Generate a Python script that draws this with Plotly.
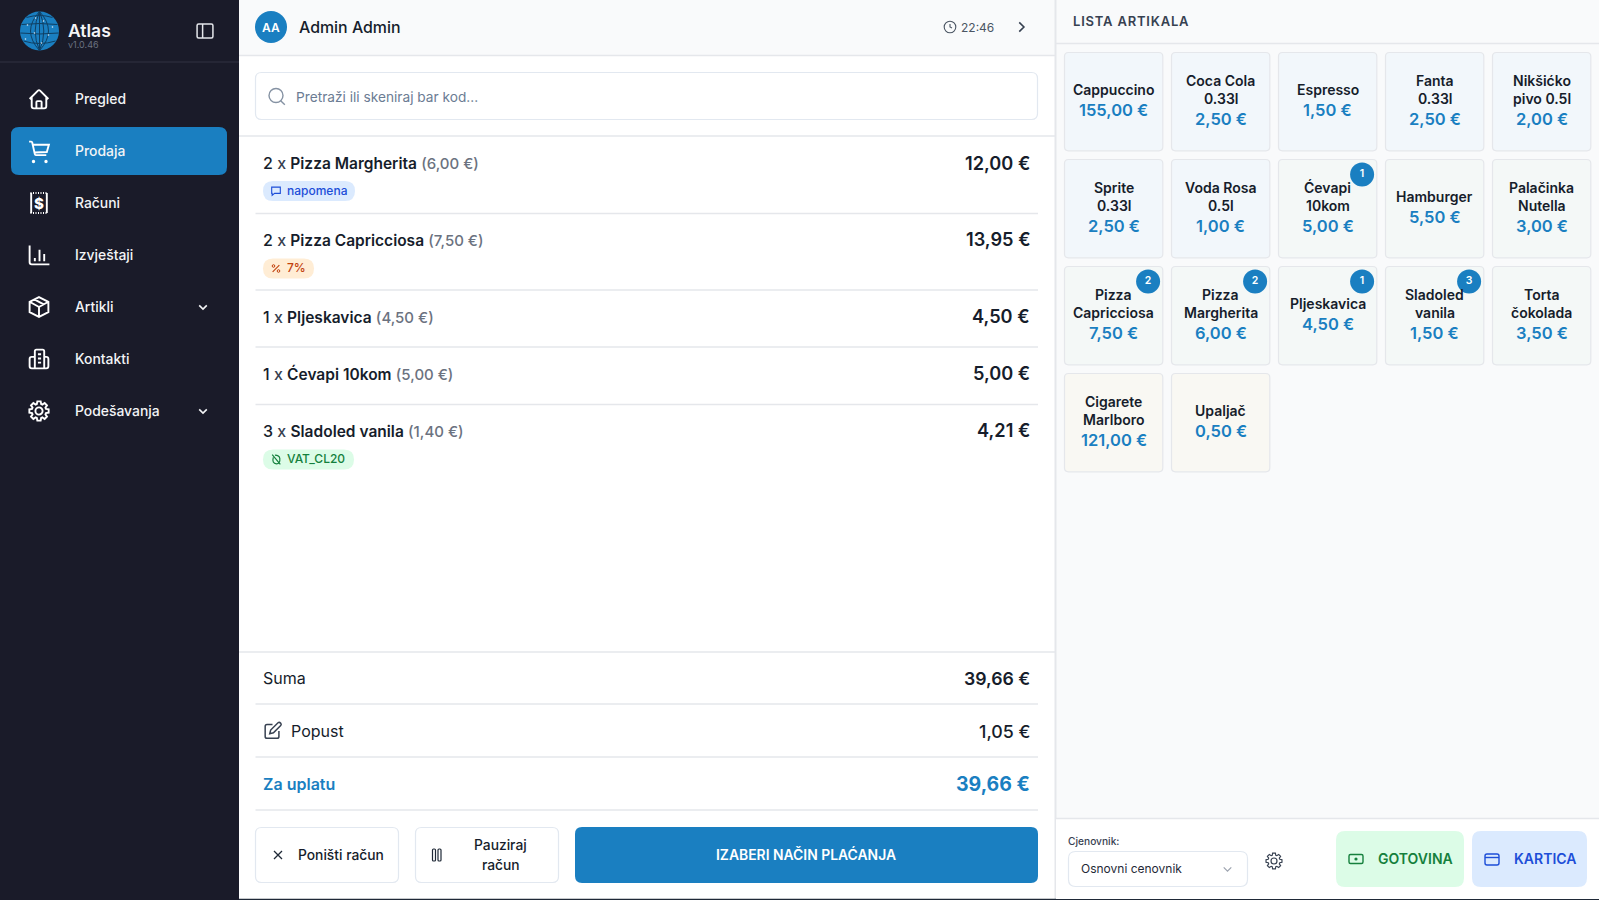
import math
import re
import plotly.graph_objects as go

# Sidebar
menu_labels = ["Pregled", "Prodaja", "Računi", "Izvještaji", "Artikli", "Kontakti", "Podešavanja"]
menu_icons = ["home", "cart", "receipt", "chart", "box", "contacts", "gear"]
menu_has_chevron = [False, False, False, False, True, False, True]

# Receipt
receipt_qty = [2, 2, 1, 1, 3]
receipt_names = ["Pizza Margherita", "Pizza Capricciosa", "Pljeskavica", "Ćevapi 10kom", "Sladoled vanila"]
receipt_unit = ["6,00 €", "7,50 €", "4,50 €", "5,00 €", "1,40 €"]
receipt_total = ["12,00 €", "13,95 €", "4,50 €", "5,00 €", "4,21 €"]
receipt_tags = ["napomena", "7%", None, None, "VAT_CL20"]

# Totals
suma = "39,66 €"
popust = "1,05 €"
za_uplatu = "39,66 €"

# Article cards
card_names = [
    "Cappuccino", "Coca Cola<br>0.33l", "Espresso", "Fanta<br>0.33l", "Nikšićko<br>pivo 0.5l",
    "Sprite<br>0.33l", "Voda Rosa<br>0.5l", "Ćevapi<br>10kom", "Hamburger", "Palačinka<br>Nutella",
    "Pizza<br>Capricciosa", "Pizza<br>Margherita", "Pljeskavica", "Sladoled<br>vanila", "Torta<br>čokolada",
    "Cigarete<br>Marlboro", "Upaljač",
]
card_prices = [
    "155,00 €", "2,50 €", "1,50 €", "2,50 €", "2,00 €",
    "2,50 €", "1,00 €", "5,00 €", "5,50 €", "3,00 €",
    "7,50 €", "6,00 €", "4,50 €", "1,50 €", "3,50 €",
    "121,00 €", "0,50 €",
]
card_groups = ["drink"] * 7 + ["food"] * 8 + ["other"] * 2
card_counts = [0, 0, 0, 0, 0, 0, 0, 1, 0, 0, 2, 2, 1, 3, 0, 0, 0]

W, H = 1599, 900
FONT = "Inter"
BLUE = "#1a7fc1"
DARK = "#1a1b29"
INK = "#161d2b"
LINE = "#e5e7eb"
GROUP_FILL = {"drink": "#f2f7fb", "food": "#f4f8f7", "other": "#f9f8f3"}

shapes = []
notes = []


def rrect(x0, y0, x1, y1, r):
    return (f"M{x0+r} {y0} L{x1-r} {y0} Q{x1} {y0} {x1} {y0+r} L{x1} {y1-r} Q{x1} {y1} {x1-r} {y1} "
            f"L{x0+r} {y1} Q{x0} {y1} {x0} {y1-r} L{x0} {y0+r} Q{x0} {y0} {x0+r} {y0} Z")


def box(x0, y0, x1, y1, r=0, fill=None, line=None, lw=1):
    shapes.append(dict(type="path", path=rrect(x0, y0, x1, y1, r), xref="x", yref="y", layer="below",
                       fillcolor=fill or "rgba(0,0,0,0)", line=dict(color=line or "rgba(0,0,0,0)", width=lw if line else 0)))


def hline(x0, x1, y, color=LINE, lw=1.5, dash="solid"):
    shapes.append(dict(type="line", x0=x0, x1=x1, y0=y, y1=y, xref="x", yref="y", layer="below",
                       line=dict(color=color, width=lw, dash=dash)))


def dot(cx, cy, r, fill=None, line=None, lw=1):
    shapes.append(dict(type="circle", x0=cx-r, x1=cx+r, y0=cy-r, y1=cy+r, xref="x", yref="y", layer="below",
                       fillcolor=fill or "rgba(0,0,0,0)", line=dict(color=line or "rgba(0,0,0,0)", width=lw if line else 0)))


def icon(d, cx, cy, size, color, lw=1.6, fill=None):
    # paths are written in a 24x24 box, only absolute M L Q C Z
    k = size / 24
    i = [0]

    def conv(m):
        v = float(m.group())
        i[0] += 1
        return f"{(cx + (v - 12) * k if i[0] % 2 else cy + (v - 12) * k):.2f}"

    path = re.sub(r"-?\d+\.?\d*", conv, d)
    shapes.append(dict(type="path", path=path, xref="x", yref="y", layer="below",
                       fillcolor=fill or "rgba(0,0,0,0)", line=dict(color=color, width=lw)))


def text(x, y, s, size=14, color=INK, weight=400, anchor="left", font=FONT):
    notes.append(dict(x=x, y=y, text=s, xref="x", yref="y", showarrow=False, xanchor=anchor, yanchor="middle",
                      borderpad=0, borderwidth=0, align=anchor, font=dict(family=font, size=size, color=color, weight=weight)))


def gear_d():
    pts = []
    for t in range(8):
        a = t * math.pi / 4
        for da, r in [(-0.30, 7.6), (-0.17, 10.2), (0.17, 10.2), (0.30, 7.6)]:
            pts.append((12 + r * math.cos(a + da), 12 + r * math.sin(a + da)))
    return "M" + " L".join(f"{x:.2f} {y:.2f}" for x, y in pts) + " Z"


ICONS = {
    "home": "M3 12 L11 4 Q12 3 13 4 L21 12 M5 10 L5 19 Q5 21 7 21 L17 21 Q19 21 19 19 L19 10 "
            "M9.5 21 L9.5 15 Q9.5 14 10.5 14 L13.5 14 Q14.5 14 14.5 15 L14.5 21",
    "cart": "M2.5 3 L4.5 3 Q5.3 3 5.5 3.8 L8 15 Q8.2 16 9 16 L19 16 M5.8 6 L21.5 6 L19.5 13 L7.4 13.5",
    "receipt": "M4.5 2.5 L4.5 21.5 M19.5 2.5 L19.5 21.5",
    "chart": "M3 3 L3 19 Q3 21 5 21 L22 21 M8 15 L8 18 M12.5 7 L12.5 18 M17 11 L17 18",
    "box": "M12 2.5 L21 7 L21 17 L12 21.5 L3 17 L3 7 Z M3 7 L12 12 L21 7 M12 12 L12 21.5 M7.5 4.7 L16.5 9.5",
    "contacts": "M8 21 L8 4.5 Q8 3 9.5 3 L15.5 3 Q17 3 17 4.5 L17 21 Z M8 10 L5 10 Q3 10 3 12 L3 19 Q3 21 5 21 L19 21 "
                "Q21 21 21 19 L21 12 Q21 10 19 10 L17 10 M11 7.5 L14 7.5 M11 11.5 L14 11.5 M11 15.5 L14 15.5",
    "gear": gear_d(),
}

# panels
box(0, 0, 239, H, fill=DARK)
box(239, 0, 1055, 55, fill="#f9fafb")
hline(239, 1055, 55.5)
box(1056, 0, W, 818, fill="#f9fafb")
shapes.append(dict(type="line", x0=1055.5, x1=1055.5, y0=0, y1=H, xref="x", yref="y", layer="below", line=dict(color="#e5e7eb", width=2)))
hline(0, 239, 62, color="#2a2b3a")
hline(239, W, 899.5, color="#1f2937", lw=1.5)

# logo
dot(39.5, 31, 19.5, fill=BLUE)
for rx in (6.5, 13.5):
    shapes.append(dict(type="path", xref="x", yref="y", layer="below", line=dict(color="#0f3f63", width=1),
                       path=f"M39.5 11.5 Q{39.5-rx*1.33} 31 39.5 50.5 Q{39.5+rx*1.33} 31 39.5 11.5 Z"))
shapes.append(dict(type="line", x0=39.5, x1=39.5, y0=11.5, y1=50.5, xref="x", yref="y", layer="below", line=dict(color="#0f3f63", width=1)))
for y0, bow, half in [(17.5, -2, 13), (24.5, -1, 18), (33, 1, 19), (41, 2.5, 16)]:
    shapes.append(dict(type="path", xref="x", yref="y", layer="below", line=dict(color="#0f3f63", width=1),
                       path=f"M{39.5-half} {y0} Q39.5 {y0+bow*2} {39.5+half} {y0}"))
for dx, dy in [(-12, -6), (-5, 2), (-14, 8), (4, -10), (9, 4), (13, -4), (2, 12), (-4, -13)]:
    dot(39.5 + dx, 31 + dy, 0.8, fill="#dcecf7")
text(67.5, 30, "Atlas", size=17.5, color="#f3f4f6", weight=600)
text(68, 44, "v1.0.46", size=9, color="#6b7280")
icon("M2 5 Q2 3 4 3 L20 3 Q22 3 22 5 L22 19 Q22 21 20 21 L4 21 Q2 21 2 19 Z M9 3 L9 21", 205, 31, 19, "#e5e7eb", lw=1.5)

# menu
box(11, 127, 227, 175, r=8, fill=BLUE)
for n, (label, ic, chev) in enumerate(zip(menu_labels, menu_icons, menu_has_chevron)):
    yc = 99 + 52 * n
    text(75, yc - 0.4, label, size=13.9, color="#f3f4f6", weight=500)
    icon(ICONS[ic], 39, yc, 25 if ic != "gear" else 23, "#ffffff", lw=1.9)
    if ic == "cart":
        dot(33.5, yc + 10.5, 1.7, fill="#ffffff")
        dot(46, yc + 10.5, 1.7, fill="#ffffff")
    if ic == "receipt":
        hline(30.5, 47.5, yc - 10, color="#ffffff", lw=2, dash="1px,1.5px")
        hline(30.5, 47.5, yc + 10, color="#ffffff", lw=2, dash="1px,1.5px")
        text(39, yc, "$", size=15, color="#ffffff", weight=800, anchor="center")
    if ic == "gear":
        dot(39, yc, 3.6, line="#ffffff", lw=1.9)
    if chev:
        icon("M5 9 L12 16 L19 9", 203, yc, 13, "#f3f4f6", lw=1.6)

# header
dot(271, 27, 16, fill=BLUE)
text(271, 27, "AA", size=12, color="#ffffff", weight=600, anchor="center")
text(299, 27, "Admin Admin", size=15.9, color=INK, weight=500)
dot(950, 27, 5.8, line="#4b5563", lw=1.1)
icon("M12 6 L12 12 L16 14", 950, 27, 12, "#4b5563", lw=1.1)
text(994, 27, "22:46", size=12, color="#4b5563", anchor="right")
icon("M9 4 L17 12 L9 20", 1021, 27, 14, "#374151", lw=1.6)

# search
box(255.5, 72.5, 1037.5, 119.5, r=6, fill="#ffffff", line="#e2e8f0", lw=1.2)
dot(276, 95.5, 7, line="#8592a3", lw=1.4)
icon("M17 17 L22 22", 276.5, 96.5, 20, "#8592a3", lw=1.4)
text(296, 96.6, "Pretraži ili skeniraj bar kod...", size=13.7, color="#6b7c93")
hline(239, 1055, 136)

# receipt rows
row_y = [163, 240.5, 317.5, 374.5, 431.5]
row_shift = [0, -0.9, -0.9, -0.9, -0.9]
row_rule = [213.5, 290, 347, 404.5]
tag_style = {"napomena": ("#dbeafe", "#1d4ed8", 355), "7%": ("#ffedd5", "#c2410c", 314), "VAT_CL20": ("#dcfce7", "#15803d", 354)}
for n in range(len(receipt_names)):
    yc = row_y[n]
    s = (f"{receipt_qty[n]} <span style=\"color:#374151\">x</span> "
         f"<span style=\"font-weight:600;font-size:15.5px\">{receipt_names[n]}</span> "
         f"<span style=\"color:#6b7280;font-size:15px\">({receipt_unit[n]})</span>")
    text(263, yc + row_shift[n], s, size=16, color=INK, weight=500)
    text(1030, yc - 0.5 + row_shift[n], receipt_total[n], size=18.2, color=INK, weight=600, anchor="right")
    tag = receipt_tags[n]
    if tag:
        fill, ink, x1 = tag_style[tag]
        box(263, yc + 18, x1, yc + 38, r=10, fill=fill)
        text(287, yc + 27.2, tag, size=12, color=ink, weight=500)
        if tag == "napomena":
            icon("M3 4 L21 4 L21 17 L9 17 L4 21 L4 17 L3 17 Z", 276, yc + 28, 11.5, ink, lw=1.1)
        elif tag == "7%":
            icon("M5 19 L19 5", 276, yc + 28, 11.5, ink, lw=1.1)
            dot(273.5, yc + 25.5, 1.3, line=ink, lw=1)
            dot(278.5, yc + 30.5, 1.3, line=ink, lw=1)
        else:
            icon("M5 3 L20 21 M7 8 Q4 19 13 20 Q20 20 19 10 Q18 4 10 4", 276, yc + 28, 13, ink, lw=1.2)
for y in row_rule:
    hline(255.5, 1038, y)

# totals
hline(239, 1055, 652)
text(263, 678, "Suma", size=16, color=INK)
text(1030, 678, suma, size=17.7, color=INK, weight=600, anchor="right")
hline(255.5, 1038, 704)
icon("M12 5 L6 5 Q4 5 4 7 L4 18 Q4 20 6 20 L17 20 Q19 20 19 18 L19 12 M9 15 L10 11 L18 3 Q19.5 2 21 3.5 Q22 5 21 6 L13 14 Z", 272.5, 731, 22, "#374151", lw=1.5)
text(291, 731, "Popust", size=16, color=INK)
text(1030, 731, popust, size=17.8, color=INK, weight=500, anchor="right")
hline(255.5, 1038, 757)
text(263, 784, "Za uplatu", size=16, color=BLUE, weight=600)
text(1030, 784, za_uplatu, size=19.5, color=BLUE, weight=700, anchor="right")
hline(255.5, 1038, 810)

# action buttons
box(255.5, 827.5, 398.5, 882.5, r=6, fill="#ffffff", line="#e2e8f0", lw=1.2)
box(415.5, 827.5, 558.5, 882.5, r=6, fill="#ffffff", line="#e2e8f0", lw=1.2)
box(575, 827, 1038, 883, r=7, fill=BLUE)
icon("M6 6 L18 18 M18 6 L6 18", 278, 855, 16, "#1f2937", lw=1.3)
text(298, 854.6, "Poništi račun", size=13.8, color=INK, weight=500)
box(432.5, 849, 435.5, 861, r=1, line="#1f2937", lw=1.2)
box(438, 849, 441, 861, r=1, line="#1f2937", lw=1.2)
text(500.5, 844.5, "Pauziraj", size=13.8, color=INK, weight=500, anchor="center")
text(500.5, 864.5, "račun", size=13.8, color=INK, weight=500, anchor="center")
text(806, 854.6, "IZABERI NAČIN PLAĆANJA", size=13.9, color="#ffffff", weight=600, anchor="center")

# right panel
text(1072.5, 21, "<span style=\"letter-spacing:0.8px\">LISTA ARTIKALA</span>", size=13, color="#374151", weight=600)
hline(1056, W, 43.5)

badge_x, badge_y, badge_text = [], [], []
for n, name in enumerate(card_names):
    col, row = n % 5, n // 5
    x0 = 1064.5 + 107 * col
    y0 = 52.5 + 107 * row
    x1, xc = x0 + 98.3, x0 + 49.15
    box(x0, y0, x1, y0 + 98.3, r=4, fill=GROUP_FILL[card_groups[n]], line="#e5e7eb", lw=1.2)
    lines = name.split("<br>")
    top = 28.5 if len(lines) == 2 else 37.5
    for k, part in enumerate(lines):
        text(xc, y0 + top + 18 * k - 0.9, part, size=14, color=INK, weight=600, anchor="center")
    text(xc, y0 + top + 18 * (len(lines) - 1) + 20, card_prices[n], size=16.5, color=BLUE, weight=600, anchor="center")
    if card_counts[n]:
        badge_x.append(x1 - 14.7)
        badge_y.append(y0 + 15)
        badge_text.append(str(card_counts[n]))

# bottom bar
box(1056, 818, W, 899, fill="#ffffff")
hline(1056, W, 818.5)
text(1068, 841, "Cjenovnik:", size=10.2, color="#374151", weight=500)
box(1068.5, 851.5, 1247.5, 886.5, r=7, fill="#ffffff", line="#e2e8f0", lw=1.2)
text(1081, 868, "Osnovni cenovnik", size=12, color="#1f2937")
icon("M5 9 L12 16 L19 9", 1227.5, 869, 13, "#9ca3af", lw=1.2)
icon(ICONS["gear"], 1274, 861, 19, "#374151", lw=1.2)
dot(1274, 861, 3, line="#374151", lw=1.2)
box(1336, 831, 1464, 887, r=9, fill="#dcfce7")
box(1349, 854.5, 1363, 863.5, r=1.5, line="#15803d", lw=1.4)
dot(1356, 859, 1.6, fill="#15803d")
text(1377.5, 858.6, "GOTOVINA", size=14, color="#15803d", weight=600)
box(1472, 831, 1587, 887, r=9, fill="#dbeafe")
box(1485, 854, 1499, 865, r=2, line="#1d4ed8", lw=1.4)
hline(1485, 1499, 857.5, color="#1d4ed8", lw=1.4)
text(1513.5, 858.6, "KARTICA", size=14, color="#1d4ed8", weight=600)

fig = go.Figure()
fig.add_trace(go.Scatter(
    x=badge_x, y=badge_y, text=badge_text, mode="markers+text", textposition="middle center",
    marker=dict(size=24, color=BLUE, line=dict(width=0)),
    textfont=dict(family=FONT, size=10.5, color="#ffffff", weight=600),
    hoverinfo="skip", showlegend=False,
))
fig.update_layout(
    width=W, height=H, margin=dict(l=0, r=0, t=0, b=0),
    paper_bgcolor="#ffffff", plot_bgcolor="rgba(0,0,0,0)",
    xaxis=dict(range=[0, W], visible=False, fixedrange=True),
    yaxis=dict(range=[H, 0], visible=False, fixedrange=True),
    shapes=shapes, annotations=notes, showlegend=False,
)
fig.write_html("out.html", config=dict(displayModeBar=False),
               post_script="document.body.style.margin='0';document.body.style.overflow='hidden';")
